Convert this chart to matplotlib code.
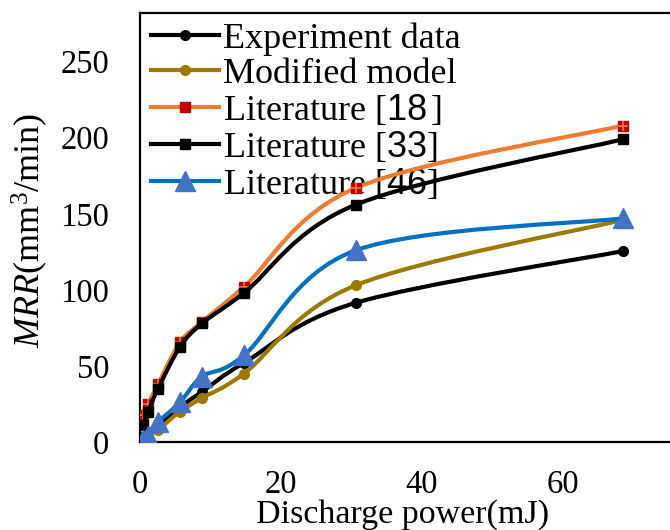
import numpy as np
import matplotlib
matplotlib.use("Agg")
import matplotlib.pyplot as plt
from matplotlib.path import Path
from matplotlib.patches import PathPatch
from matplotlib.lines import Line2D

plt.rcParams["font.family"] = "Liberation Serif"
plt.rcParams["mathtext.fontset"] = "custom"
plt.rcParams["mathtext.rm"] = "Liberation Serif"
plt.rcParams["mathtext.it"] = "Liberation Serif:italic"
plt.rcParams["mathtext.sf"] = "Liberation Sans"

# ---------------- DATA ----------------
power = [0.43, 1.13, 2.55, 5.67, 8.8, 14.75, 30.6, 68.5]
experiment = [3, 6.5, 11, 23, 33, 52, 91.5, 125.5]
modified = [1, 4.5, 8, 20, 29, 45, 103, 146]
lit18 = [18, 25, 38, 65.5, 79, 102, 167, 208]
lit33 = [11, 20, 35, 62.5, 78, 98, 156, 199]
lit46 = [1, 4, 13, 26, 43, 57, 126, 147]

labels = ["Experiment data", "Modified model",
          r"Literature [$\mathsf{18}\,$]", r"Literature [$\mathsf{33}$]",
          r"Literature [$\mathsf{46}$]"]


def smooth_path(x, y):
    # Excel-style smoothed line: cubic bezier through every point
    p = np.column_stack([x, y]).astype(float)
    n = len(p)
    verts = [p[0]]
    codes = [Path.MOVETO]
    for i in range(n - 1):
        p0 = p[i - 1] if i > 0 else p[i]
        p3 = p[i + 2] if i + 2 < n else p[i + 1]
        c1 = p[i] + (p[i + 1] - p0) / 6.0
        c2 = p[i + 1] - (p3 - p[i]) / 6.0
        verts += [c1, c2, p[i + 1]]
        codes += [Path.CURVE4] * 3
    return Path(verts, codes)


fig = plt.figure(figsize=(6.7, 5.3), dpi=100)
ax = fig.add_axes([140 / 670, 88 / 530, 564 / 670, 429 / 530])

series = [
    (experiment, "black", dict(marker="o", ms=7, mfc="black", mec="black")),
    (modified, "#9C7A00", dict(marker="o", ms=7, mfc="#9C7A00", mec="#9C7A00")),
    (lit18, "#ED7D31", dict(marker="s", ms=7, mfc="#C00000", mec="#C00000")),
    (lit33, "black", dict(marker="s", ms=7, mfc="black", mec="black")),
    (lit46, "#0070C0", dict(marker="^", ms=14, mfc="#4472C4", mec="#4472C4")),
]

handles = []
for k, (vals, col, mk) in enumerate(series):
    z = 3 + k
    ax.add_patch(PathPatch(smooth_path(power, vals), fill=False, ec=col,
                           lw=3, zorder=z, capstyle="round"))
    ax.plot(power, vals, ls="none", zorder=z + 0.5, **mk)
    if k == 2:
        ax.plot(power, vals, ls="none", marker="+", ms=7, mew=1.2,
                color="#ED7D31", zorder=z + 0.6)
    handles.append(Line2D([], [], color=col, lw=3, **mk))

ax.set_xlim(0, 80)
ax.set_ylim(0, 282)
ax.set_xticks([0, 20, 40, 60])
ax.set_yticks([0, 50, 100, 150, 200, 250])
ax.tick_params(length=0, labelsize=23.5)
ax.tick_params(axis="y", pad=22)
ax.tick_params(axis="x", pad=20)
for s in ax.spines.values():
    s.set_linewidth(1.6)

ax.set_xlabel("Discharge power(mJ)", fontsize=24.5)
ax.xaxis.label.set_va("center")
ax.xaxis.set_label_coords(0.466, -0.17)
ax.set_ylabel(r"$\mathit{MRR}$(mm$^3$/min)", fontsize=26)
ax.yaxis.label.set_va("center")
ax.yaxis.set_label_coords(-0.195, 0.494)

leg = ax.legend(handles, labels, loc="upper left", frameon=False,
                bbox_to_anchor=(0.0155, 0.982),
                fontsize=26, handlelength=1.9, handletextpad=0.1,
                labelspacing=0.05, borderaxespad=0, borderpad=0.05)
leg.set_zorder(1)

fig.savefig("out.png", dpi=100)
